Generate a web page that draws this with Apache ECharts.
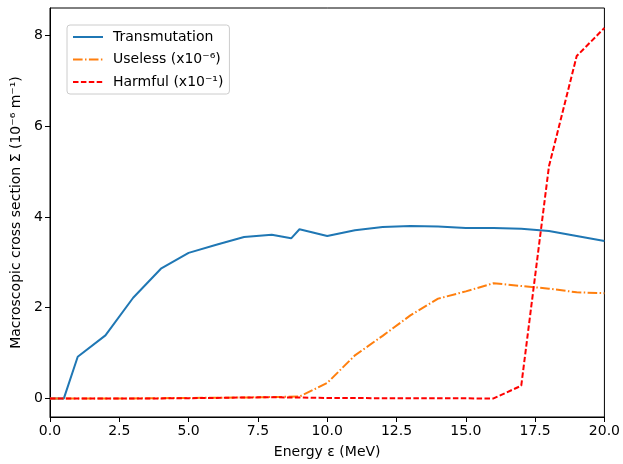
<!DOCTYPE html>
<html>
<head>
<meta charset="utf-8">
<script src="https://cdn.jsdelivr.net/npm/echarts@6/dist/echarts.min.js"></script>
<style>
html,body{margin:0;padding:0;background:#fff;}
#chart{width:623px;height:464px;}
</style>
</head>
<body>
<div id="chart"></div>
<script>
var energyT = [0, 0.5, 1, 2, 3, 4, 5, 6, 7, 8, 8.7, 9, 10, 11, 12, 13, 14, 15, 16, 17, 18, 19, 20];
var transmutation = [0, 0, 0.92, 1.39, 2.22, 2.86, 3.21, 3.39, 3.56, 3.61, 3.53, 3.73, 3.58, 3.71, 3.78, 3.80, 3.79, 3.76, 3.76, 3.74, 3.69, 3.58, 3.47];
var energy = [0, 1, 2, 3, 4, 5, 6, 7, 8, 9, 10, 11, 12, 13, 14, 15, 16, 17, 18, 19, 20];
var useless = [0, 0, 0, 0, 0.005, 0.01, 0.015, 0.02, 0.03, 0.04, 0.34, 0.95, 1.38, 1.83, 2.20, 2.36, 2.54, 2.48, 2.42, 2.34, 2.32];
var harmful = [0, 0, 0, 0, 0, 0.005, 0.01, 0.02, 0.025, 0.02, 0.01, 0.008, 0.005, 0.003, 0.002, 0.001, 0, 0.28, 5.12, 7.55, 8.17];
var xTicks = [0, 2.5, 5, 7.5, 10, 12.5, 15, 17.5, 20];
var yTicks = [0, 2, 4, 6, 8];
var names = ['Transmutation', 'Useless (x10\u207B\u2076)', 'Harmful (x10\u207B\u00B9)'];

function pairs(xs, ys) { return xs.map(function (x, i) { return [x, ys[i]]; }); }

var font = 'DejaVu Sans';
var fs = 14;
var chart = echarts.init(document.getElementById('chart'), null, {renderer: 'canvas'});
chart.setOption({
  animation: false,
  backgroundColor: '#fff',
  textStyle: {fontFamily: font, color: '#000'},
  grid: {left: 50, right: 12, top: 8, bottom: 44, show: true, borderColor: '#000', borderWidth: 1, containLabel: false},
  legend: {
    show: true,
    orient: 'vertical', left: 67, top: 25,
    padding: [5, 6, 5, 5], itemGap: 8.5, itemWidth: 30, itemHeight: 14,
    backgroundColor: '#fff', borderColor: '#cccccc', borderWidth: 1, borderRadius: 3,
    itemStyle: {opacity: 0},
    textStyle: {fontFamily: font, fontSize: fs, color: '#000', padding: [0, 0, 0, 5]},
    data: names
  },
  xAxis: {
    type: 'value', min: 0, max: 20, interval: 2.5,
    name: 'Energy \u03B5 (MeV)', nameLocation: 'middle', nameGap: 28,
    nameTextStyle: {fontFamily: font, fontSize: fs, color: '#000'},
    axisLine: {show: true, onZero: false, lineStyle: {color: '#000', width: 1}},
    axisTick: {show: true, length: 5, lineStyle: {color: '#000'}, customValues: xTicks},
    axisLabel: {fontFamily: font, fontSize: fs, color: '#000', margin: 7, customValues: xTicks, formatter: function (v) { return v.toFixed(1); }},
    splitLine: {show: false}
  },
  yAxis: {
    type: 'value', min: -0.41, max: 8.61,
    name: 'Macroscopic cross section \u03A3 (10\u207B\u2076 m\u207B\u00B9)', nameLocation: 'middle', nameGap: 27,
    nameTextStyle: {fontFamily: font, fontSize: fs, color: '#000'},
    axisLine: {show: true, onZero: false, lineStyle: {color: '#000', width: 1}},
    axisTick: {show: true, length: 5, lineStyle: {color: '#000'}, customValues: yTicks},
    axisLabel: {fontFamily: font, fontSize: fs, color: '#000', margin: 7, customValues: yTicks, formatter: function (v) { return String(v); }},
    splitLine: {show: false}
  },
  series: [
    {name: names[0], type: 'line', data: pairs(energyT, transmutation), symbol: 'none', z: 2,
     lineStyle: {color: '#1f77b4', width: 2}, itemStyle: {color: '#1f77b4'}},
    {name: names[1], type: 'line', data: pairs(energy, useless), symbol: 'none', z: 3,
     lineStyle: {color: '#ff7f0e', width: 2, type: [9.6, 2.4, 1.5, 2.4]}, itemStyle: {color: '#ff7f0e'}},
    {name: names[2], type: 'line', data: pairs(energy, harmful), symbol: 'none', z: 4,
     lineStyle: {color: '#ff0000', width: 2, type: [5.5, 2.4]}, itemStyle: {color: '#ff0000'}}
  ]
});
</script>
</body>
</html>
